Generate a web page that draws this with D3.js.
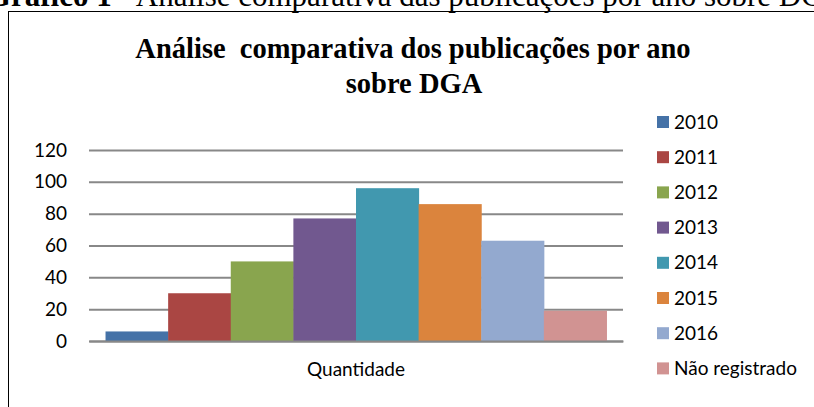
<!DOCTYPE html>
<html lang="pt">
<head>
    <meta charset="UTF-8">
    <title>Gráfico 1</title>
    <script src="https://d3js.org/d3.v7.min.js"></script>
    <style>
        body { margin: 0; background: #fff; }
        .caption { font-family: "Liberation Serif", serif; font-size: 31px; fill: #000; text-anchor: end; }
        .title { font-family: "Liberation Serif", serif; font-size: 28.5px; font-weight: bold; text-anchor: middle; white-space: pre; }
        .axis text, .legend text { font-family: "Lato", "Open Sans", sans-serif; font-size: 19px; fill: #000; }
        .y-axis .domain { display: none; }
        .y-axis .tick line { stroke: #888; stroke-width: 2; }
        .x-axis .domain { stroke: #888; stroke-width: 2; }
        .x-axis .tick line { display: none; }
    </style>
</head>
<body>
<script>
    const categories = ["Quantidade"];
    const series = ["2010", "2011", "2012", "2013", "2014", "2015", "2016", "Não registrado"];
    const values = [6, 30, 50, 77, 96, 86, 63, 19];
    const colors = ["#4572A7", "#AA4643", "#89A54E", "#71588F", "#4198AF", "#DB843D", "#93A9CF", "#D19392"];
    const yTicks = [0, 20, 40, 60, 80, 100, 120];

    const width = 814, height = 407;
    const plotL = 89, plotR = 623, plotT = 150, plotB = 341;

    const svg = d3.select("body").append("svg")
        .attr("width", width).attr("height", height);

    // caption of the figure, cut off by the top edge as in the scanned page
    const cap = svg.append("text").attr("class", "caption")
        .attr("x", 846).attr("y", 6);
    cap.append("tspan").attr("font-weight", "bold").text("Gráfico 1");
    cap.append("tspan").text(" - Análise comparativa das publicações por ano sobre DGA");

    // chart frame
    svg.append("rect")
        .attr("x", 8.5).attr("y", 11.5).attr("width", 820).attr("height", 420)
        .attr("fill", "none").attr("stroke", "#000").attr("stroke-width", 1);

    svg.append("text").attr("class", "title")
        .attr("x", 413).attr("y", 58).text("Análise  comparativa dos publicações por ano");
    svg.append("text").attr("class", "title")
        .attr("x", 414).attr("y", 93).text("sobre DGA");

    const y = d3.scaleLinear().domain([0, 120]).range([plotB, plotT]);
    const x0 = d3.scaleBand().domain(categories).range([plotL, plotR]).paddingInner(0).paddingOuter(0.033);
    const x1 = d3.scaleBand().domain(series).range([0, x0.bandwidth()]);

    svg.append("g").attr("class", "axis y-axis")
        .attr("transform", `translate(${plotL},0)`)
        .call(d3.axisLeft(y).tickValues(yTicks).tickSize(-(plotR - plotL)).tickPadding(22));

    const g = svg.append("g");
    categories.forEach(c => {
        g.selectAll("rect.bar")
            .data(series.map((s, i) => ({s, v: values[i], c: colors[i]})))
            .join("rect")
            .attr("class", "bar")
            .attr("x", d => x0(c) + x1(d.s))
            .attr("y", d => y(d.v))
            .attr("width", x1.bandwidth() + 0.5)
            .attr("height", d => plotB - y(d.v))
            .attr("fill", d => d.c);
    });

    svg.append("g").attr("class", "axis x-axis")
        .attr("transform", `translate(0,${plotB})`)
        .call(d3.axisBottom(x0).tickSize(0).tickPadding(22));

    const legend = svg.append("g").attr("class", "legend");
    const items = legend.selectAll("g").data(series).join("g")
        .attr("transform", (d, i) => `translate(657,${122 + i * 35.2})`);
    items.append("rect").attr("x", 0).attr("y", -6).attr("width", 12).attr("height", 12)
        .attr("fill", (d, i) => colors[i]);
    items.append("text").attr("x", 17).attr("dy", "0.35em").text(d => d);
</script>
</body>
</html>
